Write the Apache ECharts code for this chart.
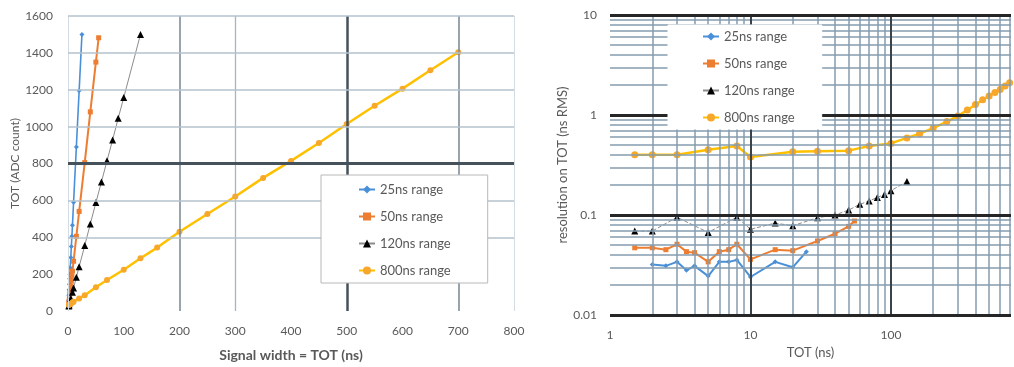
<!DOCTYPE html>
<html>
<head>
<meta charset="utf-8">
<script src="https://cdn.jsdelivr.net/npm/echarts@6/dist/echarts.min.js"></script>
<style>
  html, body { margin: 0; padding: 0; background: #fff; }
  #chart { width: 1014px; height: 367px; }
</style>
</head>
<body>
<div id="chart"></div>
<script>
// --- left panel: ADC count vs signal width ---
var width25 = [1, 1.5, 2, 2.5, 3, 3.5, 4, 5, 6, 7, 8, 10, 15, 20, 25];
var adc25 = [55, 85, 115, 145, 175, 200, 235, 290, 350, 405, 465, 590, 890, 1195, 1500];
var width50 = [1.5, 2, 2.5, 3, 3.5, 4, 5, 6, 7, 8, 10, 15, 20, 30, 40, 50, 55];
var adc50 = [40, 54, 68, 81, 95, 108, 135, 162, 189, 216, 270, 405, 540, 805, 1080, 1350, 1482];
var width120 = [1.5, 2, 3, 5, 8, 10, 15, 20, 30, 40, 50, 60, 70, 80, 90, 100, 130];
var adc120 = [27, 33, 45, 68, 102, 125, 183, 240, 355, 472, 588, 700, 815, 928, 1045, 1158, 1500];
var width800 = [1.5, 2, 3, 5, 8, 10, 20, 30, 50, 70, 100, 130, 160, 200, 250, 300, 350, 400, 450, 500, 550, 600, 650, 700];
var adc800 = [33, 34, 36, 40, 46, 50, 68, 86, 129, 168, 224, 286, 344, 430, 526, 621, 722, 814, 911, 1014, 1113, 1206, 1306, 1403];

// --- right panel: resolution vs TOT ---
var tot25 = [2, 2.5, 3, 3.5, 4, 5, 6, 7, 8, 10, 15, 20, 25];
var res25 = [0.032, 0.031, 0.034, 0.028, 0.031, 0.0245, 0.034, 0.034, 0.0355, 0.024, 0.034, 0.030, 0.043];
var tot50 = [1.5, 2, 2.5, 3, 3.5, 4, 5, 6, 7, 8, 10, 15, 20, 30, 40, 50, 55];
var res50 = [0.047, 0.047, 0.045, 0.051, 0.043, 0.042, 0.034, 0.043, 0.045, 0.051, 0.036, 0.045, 0.044, 0.055, 0.065, 0.077, 0.087];
var tot120 = [1.5, 2, 3, 5, 8, 10, 15, 20, 30, 40, 50, 60, 70, 80, 90, 100, 130];
var res120 = [0.069, 0.069, 0.095, 0.067, 0.095, 0.072, 0.083, 0.078, 0.094, 0.1, 0.112, 0.128, 0.138, 0.15, 0.16, 0.175, 0.216];
var tot800 = [1.5, 2, 3, 5, 8, 10, 20, 30, 50, 70, 100, 130, 160, 200, 250, 300, 350, 400, 450, 500, 550, 600, 650, 700];
var res800 = [0.40, 0.40, 0.40, 0.45, 0.49, 0.38, 0.43, 0.435, 0.44, 0.49, 0.52, 0.59, 0.65, 0.74, 0.86, 0.98, 1.12, 1.27, 1.42, 1.55, 1.68, 1.8, 1.95, 2.1];

var names = ['25ns range', '50ns range', '120ns range', '800ns range'];

// gridline values as they show in the picture
var leftXFaint = [0, 800];
var leftXLight = [300];
var leftXMid = [200, 700];
var leftXDark = [500];
var leftYLight = [400, 600, 1000, 1200, 1400, 1600];
var leftYDark = [800];
var rightXMajor = [10, 100];
var rightYMajor = [0.01, 0.1, 1, 10];

var rightXMinor = [];
[1, 10, 100].forEach(function(d) {
  for (var k = 2; k <= 9; k++) { if (k * d < 716) rightXMinor.push(k * d); }
});
var rightYMinor = [];
[0.01, 0.1, 1].forEach(function(d) {
  for (var k = 2; k <= 9; k++) rightYMinor.push(+(k * d).toFixed(3));
});

var font = 'Lato, "Open Sans", sans-serif';
var grey = '#595959';
var cBlue = '#4a90d9', cOrange = '#ed7d31', cGold = '#ffc000', cGoldMk = '#f7a72a';

function pairs(xs, ys) {
  return xs.map(function(x, i) { return [x, ys[i]]; });
}
function lines(axis, values, color, width) {
  return values.map(function(v) {
    var o = {};
    o[axis] = v;
    o.lineStyle = { color: color, width: width, type: 'solid' };
    return o;
  });
}

var chart = echarts.init(document.getElementById('chart'), null, { renderer: 'canvas' });

var leftGrid = [].concat(
  lines('xAxis', leftXFaint, '#d3dce2', 1),
  lines('xAxis', leftXLight, '#a5b5c1', 1.3),
  lines('xAxis', leftXMid, '#7f8e99', 1.6),
  lines('xAxis', leftXDark, '#46525b', 2.5),
  lines('yAxis', leftYLight, '#b3c2cc', 1.6),
  lines('yAxis', leftYDark, '#46525b', 3)
);
var rightGrid = [].concat(
  lines('xAxis', rightXMinor, '#859daf', 1.5),
  lines('yAxis', rightYMinor, '#859daf', 1.5),
  lines('xAxis', rightXMajor, '#3a434a', 2),
  lines('yAxis', rightYMajor, '#262626', 3)
);

function gridSeries(xi, data) {
  return {
    type: 'line', name: 'grid' + xi, xAxisIndex: xi, yAxisIndex: xi, data: [], z: 1,
    markLine: { silent: true, symbol: ['none', 'none'], label: { show: false }, animation: false, data: data }
  };
}

function lineSeries(xi, name, data, color, mkColor, symbol, size, width, dash) {
  return {
    type: 'line', name: name, xAxisIndex: xi, yAxisIndex: xi, data: data, z: 3,
    symbol: symbol, symbolSize: size, showSymbol: true,
    lineStyle: { color: color, width: width, type: dash || 'solid' },
    itemStyle: { color: mkColor }
  };
}

function logLabel(v) {
  var l = Math.log10(v);
  return Math.abs(l - Math.round(l)) < 1e-6 ? String(v) : '';
}

chart.setOption({
  animation: false,
  backgroundColor: '#fff',
  textStyle: { fontFamily: font },
  grid: [
    { left: 68, top: 16, width: 446, height: 298 },
    { left: 610, top: 15, width: 404, height: 300 }
  ],
  xAxis: [
    {
      gridIndex: 0, type: 'value', min: 0, max: 800, interval: 100,
      name: 'Signal width = TOT (ns)', nameLocation: 'middle', nameGap: 37,
      nameTextStyle: { color: grey, fontSize: 14, fontWeight: 'bold', fontFamily: font },
      axisLine: { show: false }, axisTick: { show: false }, splitLine: { show: false },
      axisLabel: { color: grey, fontSize: 12, margin: 14, fontFamily: font, formatter: function(v) { return String(v); } }
    },
    {
      gridIndex: 1, type: 'log', logBase: 10, min: 1, max: 716,
      name: 'TOT (ns)', nameLocation: 'middle', nameGap: 31,
      nameTextStyle: { color: grey, fontSize: 13, fontFamily: font },
      axisLine: { show: false }, axisTick: { show: false }, splitLine: { show: false },
      axisLabel: { color: grey, fontSize: 12, margin: 14, fontFamily: font, formatter: logLabel }
    }
  ],
  yAxis: [
    {
      gridIndex: 0, type: 'value', min: 0, max: 1600, interval: 200,
      name: 'TOT (ADC count)', nameLocation: 'middle', nameGap: 44,
      nameTextStyle: { color: grey, fontSize: 12, fontFamily: font },
      axisLine: { show: false }, axisTick: { show: false }, splitLine: { show: false },
      axisLabel: { color: grey, fontSize: 12, margin: 15, fontFamily: font, formatter: function(v) { return String(v); } }
    },
    {
      gridIndex: 1, type: 'log', logBase: 10, min: 0.01, max: 10,
      name: 'resolution on TOT (ns RMS)', nameLocation: 'middle', nameGap: 37,
      nameTextStyle: { color: grey, fontSize: 13, fontFamily: font },
      axisLine: { show: false }, axisTick: { show: false }, splitLine: { show: false },
      axisLabel: { color: grey, fontSize: 12, margin: 13, fontFamily: font, formatter: logLabel }
    }
  ],
  legend: [
    {
      data: names, orient: 'vertical', left: 321, top: 175, z: 10,
      padding: [8, 37, 6, 37], itemGap: 14, itemWidth: 16, itemHeight: 10,
      backgroundColor: '#fff', borderColor: '#b8b8b8', borderWidth: 1,
      textStyle: { color: grey, fontSize: 13, fontFamily: font }
    },
    {
      data: names, orient: 'vertical', left: 668, top: 25, z: 10,
      padding: [5, 27, 5, 34], itemGap: 14, itemWidth: 16, itemHeight: 10,
      backgroundColor: '#ffffff', borderColor: '#ffffff', borderWidth: 1,
      textStyle: { color: grey, fontSize: 13, fontFamily: font }
    }
  ],
  series: [
    gridSeries(0, leftGrid),
    gridSeries(1, rightGrid),
    lineSeries(0, names[0], pairs(width25, adc25), cBlue, cBlue, 'diamond', 5, 1.6),
    lineSeries(0, names[1], pairs(width50, adc50), cOrange, cOrange, 'rect', 5, 2),
    lineSeries(0, names[2], pairs(width120, adc120), '#8c8c8c', '#000', 'triangle', 7, 1),
    lineSeries(0, names[3], pairs(width800, adc800), cGold, cGoldMk, 'circle', 6, 2.5),
    lineSeries(1, names[0], pairs(tot25, res25), cBlue, cBlue, 'diamond', 5, 2),
    lineSeries(1, names[1], pairs(tot50, res50), cOrange, cOrange, 'rect', 5, 2),
    lineSeries(1, names[2], pairs(tot120, res120), '#8c8c8c', '#000', 'triangle', 7, 1, 'dashed'),
    lineSeries(1, names[3], pairs(tot800, res800), cGold, cGoldMk, 'circle', 7, 2.5)
  ]
});
</script>
</body>
</html>
